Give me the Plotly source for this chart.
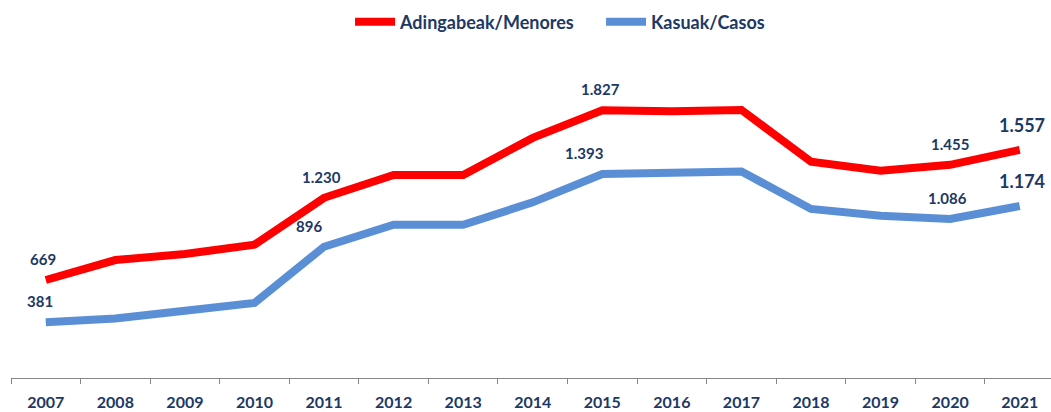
import plotly.graph_objects as go

years = [str(y) for y in range(2007, 2022)]
menores = [669, 805, 846, 910, 1230, 1386, 1386, 1639, 1827, 1820, 1830, 1477, 1415, 1455, 1557]
casos = [381, 406, 459, 512, 896, 1046, 1046, 1199, 1393, 1404, 1410, 1154, 1108, 1086, 1174]
labeled_years = ["2007", "2011", "2015", "2020", "2021"]
big_label_year = "2021"

name_red = "Adingabeak/Menores"
name_blue = "Kasuak/Casos"

LABEL_COLOR = "#203864"
FONT = "Lato"

# label offsets (style only, in pixels)
red_xshift = {"2007": -3, "2011": -3, "2015": -2, "2020": 0, "2021": 2}
blue_xshift = {"2007": -6, "2011": -15, "2015": -18, "2020": -3, "2021": 2}


def fmt(v):
    return f"{v:,}".replace(",", ".")


fig = go.Figure()
fig.add_trace(go.Scatter(
    x=years, y=menores, name=name_red, mode="lines",
    line=dict(color="#FF0000", width=8), hoverinfo="skip",
))
fig.add_trace(go.Scatter(
    x=years, y=casos, name=name_blue, mode="lines",
    line=dict(color="#5A8FD6", width=8), hoverinfo="skip",
))

annotations = []
for series, shifts in ((menores, red_xshift), (casos, blue_xshift)):
    for i, (yr, v) in enumerate(zip(years, series)):
        if yr in labeled_years:
            big = yr == big_label_year
            annotations.append(dict(
                x=i, y=v, xref="x", yref="y", text=fmt(v), showarrow=False,
                xanchor="center", yanchor="middle",
                yshift=25 if big else 21, xshift=shifts[yr],
                font=dict(size=18 if big else 15, color=LABEL_COLOR, family=FONT, weight="bold"),
            ))

fig.update_layout(
    width=1051, height=412,
    margin=dict(l=11, r=0, t=85, b=34, autoexpand=False),
    paper_bgcolor="white", plot_bgcolor="white",
    font=dict(family=FONT, color=LABEL_COLOR),
    showlegend=True,
    annotations=annotations,
    legend=dict(orientation="h", x=0.326, xanchor="left", y=1.215, yanchor="middle",
                font=dict(size=18, color=LABEL_COLOR, family=FONT, weight="bold"),
                itemwidth=40, tracegroupgap=0, entrywidth=196),
    xaxis=dict(type="category", showgrid=False, showline=True, linecolor="#868686", linewidth=1,
               ticks="outside", tickson="boundaries", ticklen=5, tickcolor="#868686",
               tickfont=dict(size=16, color=LABEL_COLOR, family=FONT, weight="bold"),
               ticklabelstandoff=10, range=[-0.5, 14.45], automargin=False),
    yaxis=dict(range=[0, 2000], visible=False, showgrid=False, automargin=False),
)

fig.write_html("out.html", config={"displayModeBar": False},
               post_script="document.body.style.margin='0';document.body.style.overflow='hidden';")
